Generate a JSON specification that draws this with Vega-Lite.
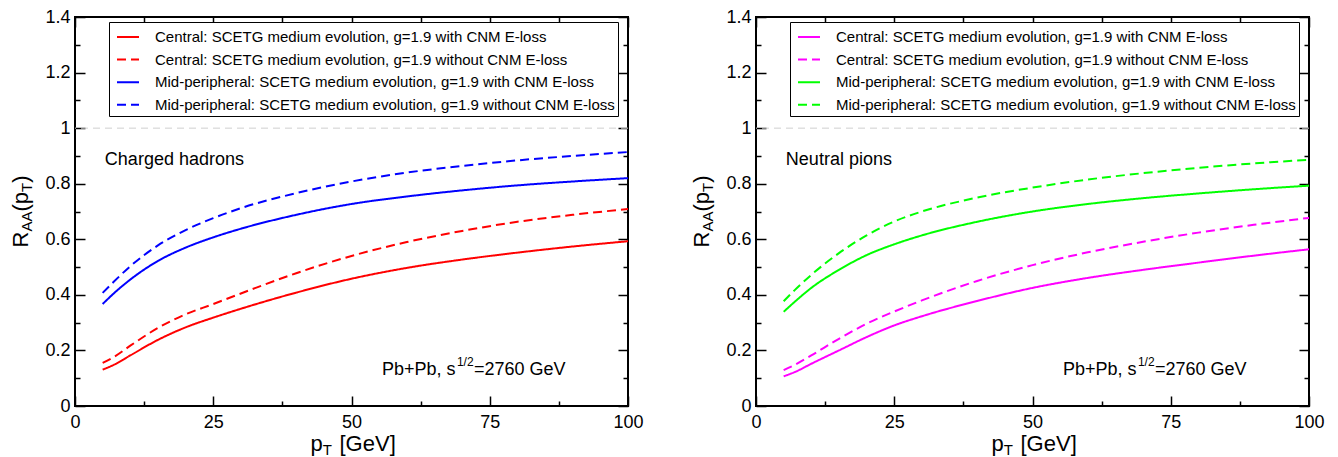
{
  "$schema": "https://vega.github.io/schema/vega-lite/v6.json",
  "background": "white",
  "padding": {"left": 8, "top": 7, "right": 0, "bottom": 0},
  "datasets": {
    "hadrons": [
      {"pT": 5, "cw": 0.131, "cwo": 0.155, "mw": 0.367, "mwo": 0.407},
      {"pT": 7, "cw": 0.148, "cwo": 0.176, "mw": 0.405, "mwo": 0.447},
      {"pT": 10, "cw": 0.182, "cwo": 0.217, "mw": 0.455, "mwo": 0.503},
      {"pT": 15, "cw": 0.238, "cwo": 0.281, "mw": 0.522, "mwo": 0.578},
      {"pT": 20, "cw": 0.283, "cwo": 0.330, "mw": 0.570, "mwo": 0.633},
      {"pT": 25, "cw": 0.318, "cwo": 0.367, "mw": 0.607, "mwo": 0.676},
      {"pT": 30, "cw": 0.350, "cwo": 0.405, "mw": 0.638, "mwo": 0.712},
      {"pT": 40, "cw": 0.408, "cwo": 0.478, "mw": 0.688, "mwo": 0.766},
      {"pT": 50, "cw": 0.458, "cwo": 0.540, "mw": 0.727, "mwo": 0.808},
      {"pT": 60, "cw": 0.497, "cwo": 0.590, "mw": 0.754, "mwo": 0.840},
      {"pT": 70, "cw": 0.527, "cwo": 0.630, "mw": 0.776, "mwo": 0.864},
      {"pT": 80, "cw": 0.552, "cwo": 0.663, "mw": 0.794, "mwo": 0.884},
      {"pT": 90, "cw": 0.574, "cwo": 0.688, "mw": 0.808, "mwo": 0.900},
      {"pT": 100, "cw": 0.593, "cwo": 0.709, "mw": 0.820, "mwo": 0.914}
    ],
    "pions": [
      {"pT": 5, "cw": 0.107, "cwo": 0.129, "mw": 0.339, "mwo": 0.377},
      {"pT": 7, "cw": 0.122, "cwo": 0.148, "mw": 0.375, "mwo": 0.417},
      {"pT": 10, "cw": 0.152, "cwo": 0.182, "mw": 0.425, "mwo": 0.472},
      {"pT": 15, "cw": 0.200, "cwo": 0.242, "mw": 0.490, "mwo": 0.550},
      {"pT": 20, "cw": 0.248, "cwo": 0.296, "mw": 0.543, "mwo": 0.614},
      {"pT": 25, "cw": 0.290, "cwo": 0.340, "mw": 0.582, "mwo": 0.664},
      {"pT": 30, "cw": 0.323, "cwo": 0.380, "mw": 0.614, "mwo": 0.700},
      {"pT": 40, "cw": 0.378, "cwo": 0.450, "mw": 0.663, "mwo": 0.750},
      {"pT": 50, "cw": 0.425, "cwo": 0.507, "mw": 0.700, "mwo": 0.786},
      {"pT": 60, "cw": 0.461, "cwo": 0.553, "mw": 0.727, "mwo": 0.815},
      {"pT": 70, "cw": 0.490, "cwo": 0.591, "mw": 0.748, "mwo": 0.838},
      {"pT": 80, "cw": 0.516, "cwo": 0.624, "mw": 0.765, "mwo": 0.857},
      {"pT": 90, "cw": 0.541, "cwo": 0.652, "mw": 0.780, "mwo": 0.873},
      {"pT": 100, "cw": 0.564, "cwo": 0.677, "mw": 0.793, "mwo": 0.886}
    ]
  },
  "spacing": 44,
  "hconcat": [
    {
      "width": 553,
      "height": 389,
      "layer": [
        {
          "data": {"values": [{}]},
          "mark": {"type": "rule", "color": "#cfcfcf", "strokeDash": [7, 5], "strokeWidth": 1},
          "encoding": {
            "y": {"datum": 1, "type": "quantitative", "scale": {"domain": [0, 1.4], "nice": false},
              "axis": {"orient": "left", "values": [0, 0.2, 0.4, 0.6, 0.8, 1, 1.2, 1.4], "format": "~g", "ticks": false, "tickSize": 0, "labelPadding": 5, "labelFlush": false, "labelOverlap": false,
                "title": "R", "titleX": -48, "titleY": 230, "titleAngle": -90, "titleAlign": "left", "titleBaseline": "alphabetic"}}
          }
        },
        {
          "data": {"name": "hadrons"},
          "transform": [{"fold": ["cw", "cwo", "mw", "mwo"], "as": ["series", "R"]}],
          "mark": {"type": "line", "strokeWidth": 2, "interpolate": "monotone"},
          "encoding": {
            "x": {"field": "pT", "type": "quantitative", "scale": {"domain": [0, 100], "nice": false},
              "axis": {"orient": "bottom", "values": [0, 25, 50, 75, 100], "ticks": false, "tickSize": 0, "labelPadding": 7, "labelFlush": false, "labelOverlap": false,
                "title": "p", "titleX": 235, "titleY": 44, "titleAlign": "left", "titleBaseline": "alphabetic", "titleAngle": 0}},
            "y": {"field": "R", "type": "quantitative", "scale": {"domain": [0, 1.4], "nice": false},
              "axis": {"orient": "left", "values": [0, 0.2, 0.4, 0.6, 0.8, 1, 1.2, 1.4], "tickSize": -10, "labels": false,
                "title": "AA", "titleFontSize": 15, "titleX": -43.5, "titleY": 214, "titleAngle": -90, "titleAlign": "left", "titleBaseline": "alphabetic"}},
            "color": {"field": "series", "type": "nominal",
              "scale": {"domain": ["cw", "cwo", "mw", "mwo"], "range": ["#ff0000", "#ff0000", "#0000ff", "#0000ff"]},
              "legend": {"title": null, "orient": "none", "legendX": 34, "legendY": 5, "symbolType": "stroke", "symbolSize": 484, "symbolStrokeWidth": 2, "symbolOffset": 4, "labelFont": "Liberation Sans", "labelFontSize": 15, "labelColor": "#000", "labelLimit": 0, "rowPadding": 2.6, "padding": 3, "strokeColor": "#000", "fillColor": "#fff", "labelOffset": 15,
                "labelExpr": "datum.value == 'cw' ? 'Central: SCETG medium evolution, g=1.9 with CNM E-loss' : datum.value == 'cwo' ? 'Central: SCETG medium evolution, g=1.9 without CNM E-loss' : datum.value == 'mw' ? 'Mid-peripheral: SCETG medium evolution, g=1.9 with CNM E-loss' : 'Mid-peripheral: SCETG medium evolution, g=1.9 without CNM E-loss'"}},
            "strokeDash": {"field": "series", "type": "nominal",
              "scale": {"domain": ["cw", "cwo", "mw", "mwo"], "range": [[1, 0], [9, 5], [1, 0], [9, 5]]},
              "legend": {"title": null, "orient": "none", "legendX": 34, "legendY": 5, "symbolType": "stroke", "symbolSize": 484, "symbolStrokeWidth": 2, "symbolOffset": 4, "labelFont": "Liberation Sans", "labelFontSize": 15, "labelColor": "#000", "labelLimit": 0, "rowPadding": 2.6, "padding": 3, "strokeColor": "#000", "fillColor": "#fff", "labelOffset": 15,
                "labelExpr": "datum.value == 'cw' ? 'Central: SCETG medium evolution, g=1.9 with CNM E-loss' : datum.value == 'cwo' ? 'Central: SCETG medium evolution, g=1.9 without CNM E-loss' : datum.value == 'mw' ? 'Mid-peripheral: SCETG medium evolution, g=1.9 with CNM E-loss' : 'Mid-peripheral: SCETG medium evolution, g=1.9 without CNM E-loss'"}}
          }
        },
        {
          "data": {"values": [{}]},
          "mark": {"type": "text", "text": "Charged hadrons", "align": "left", "baseline": "middle", "font": "Liberation Sans", "fontSize": 18, "color": "#000"},
          "encoding": {
            "x": {"datum": 5.4, "type": "quantitative", "scale": {"domain": [0, 100], "nice": false},
              "axis": {"orient": "bottom", "values": [0, 25, 50, 75, 100], "tickSize": -10, "labels": false,
                "title": "T", "titleFontSize": 15, "titleX": 247.2, "titleY": 48.5, "titleAlign": "left", "titleBaseline": "alphabetic", "titleAngle": 0}},
            "y": {"datum": 0.885, "type": "quantitative", "scale": {"domain": [0, 1.4], "nice": false},
              "axis": {"orient": "left", "values": [0.1, 0.3, 0.5, 0.7, 0.9, 1.1, 1.3], "tickSize": -5, "labels": false,
                "title": "(p", "titleX": -48, "titleY": 194, "titleAngle": -90, "titleAlign": "left", "titleBaseline": "alphabetic"}}
          }
        },
        {
          "data": {"values": [{}]},
          "mark": {"type": "text", "text": "Pb+Pb, s", "align": "left", "baseline": "middle", "font": "Liberation Sans", "fontSize": 18, "color": "#000"},
          "encoding": {
            "x": {"datum": 55.5, "type": "quantitative", "scale": {"domain": [0, 100], "nice": false},
              "axis": {"orient": "bottom", "values": [12.5, 37.5, 62.5, 87.5], "tickSize": -5, "labels": false,
                "title": "[GeV]", "titleX": 264, "titleY": 44, "titleAlign": "left", "titleBaseline": "alphabetic", "titleAngle": 0}},
            "y": {"datum": 0.13, "type": "quantitative", "scale": {"domain": [0, 1.4], "nice": false},
              "axis": {"orient": "right", "values": [0, 0.2, 0.4, 0.6, 0.8, 1, 1.2, 1.4], "tickSize": -10, "labels": false,
                "title": "T", "titleFontSize": 15, "titleX": -596.5, "titleY": 174.5, "titleAngle": -90, "titleAlign": "left", "titleBaseline": "alphabetic"}}
          }
        },
        {
          "data": {"values": [{}]},
          "mark": {"type": "text", "text": "1/2", "align": "left", "baseline": "middle", "font": "Liberation Sans", "fontSize": 12, "color": "#000", "dx": 75, "dy": -8},
          "encoding": {
            "x": {"datum": 55.5, "type": "quantitative", "scale": {"domain": [0, 100], "nice": false},
              "axis": {"orient": "top", "values": [0, 25, 50, 75, 100], "tickSize": -10, "labels": false, "title": null}},
            "y": {"datum": 0.13, "type": "quantitative", "scale": {"domain": [0, 1.4], "nice": false},
              "axis": {"orient": "right", "values": [0.1, 0.3, 0.5, 0.7, 0.9, 1.1, 1.3], "tickSize": -5, "labels": false,
                "title": ")", "titleX": -601, "titleY": 165.3, "titleAngle": -90, "titleAlign": "left", "titleBaseline": "alphabetic"}}
          }
        },
        {
          "data": {"values": [{}]},
          "mark": {"type": "text", "text": "=2760 GeV", "align": "left", "baseline": "middle", "font": "Liberation Sans", "fontSize": 18, "color": "#000", "dx": 92},
          "encoding": {
            "x": {"datum": 55.5, "type": "quantitative", "scale": {"domain": [0, 100], "nice": false},
              "axis": {"orient": "top", "values": [12.5, 37.5, 62.5, 87.5], "tickSize": -5, "labels": false, "title": null}},
            "y": {"datum": 0.13, "type": "quantitative", "scale": {"domain": [0, 1.4], "nice": false}, "axis": null}
          }
        }
      ],
      "resolve": {"axis": {"x": "independent", "y": "independent"}}
    },
    {
      "width": 553,
      "height": 389,
      "layer": [
        {
          "data": {"values": [{}]},
          "mark": {"type": "rule", "color": "#cfcfcf", "strokeDash": [7, 5], "strokeWidth": 1},
          "encoding": {
            "y": {"datum": 1, "type": "quantitative", "scale": {"domain": [0, 1.4], "nice": false},
              "axis": {"orient": "left", "values": [0, 0.2, 0.4, 0.6, 0.8, 1, 1.2, 1.4], "format": "~g", "ticks": false, "tickSize": 0, "labelPadding": 5, "labelFlush": false, "labelOverlap": false,
                "title": "R", "titleX": -48, "titleY": 230, "titleAngle": -90, "titleAlign": "left", "titleBaseline": "alphabetic"}}
          }
        },
        {
          "data": {"name": "pions"},
          "transform": [{"fold": ["cw", "cwo", "mw", "mwo"], "as": ["series", "R"]}],
          "mark": {"type": "line", "strokeWidth": 2, "interpolate": "monotone"},
          "encoding": {
            "x": {"field": "pT", "type": "quantitative", "scale": {"domain": [0, 100], "nice": false},
              "axis": {"orient": "bottom", "values": [0, 25, 50, 75, 100], "ticks": false, "tickSize": 0, "labelPadding": 7, "labelFlush": false, "labelOverlap": false,
                "title": "p", "titleX": 235, "titleY": 44, "titleAlign": "left", "titleBaseline": "alphabetic", "titleAngle": 0}},
            "y": {"field": "R", "type": "quantitative", "scale": {"domain": [0, 1.4], "nice": false},
              "axis": {"orient": "left", "values": [0, 0.2, 0.4, 0.6, 0.8, 1, 1.2, 1.4], "tickSize": -10, "labels": false,
                "title": "AA", "titleFontSize": 15, "titleX": -43.5, "titleY": 214, "titleAngle": -90, "titleAlign": "left", "titleBaseline": "alphabetic"}},
            "color": {"field": "series", "type": "nominal",
              "scale": {"domain": ["cw", "cwo", "mw", "mwo"], "range": ["#ff00ff", "#ff00ff", "#00ff00", "#00ff00"]},
              "legend": {"title": null, "orient": "none", "legendX": 34, "legendY": 5, "symbolType": "stroke", "symbolSize": 484, "symbolStrokeWidth": 2, "symbolOffset": 4, "labelFont": "Liberation Sans", "labelFontSize": 15, "labelColor": "#000", "labelLimit": 0, "rowPadding": 2.6, "padding": 3, "strokeColor": "#000", "fillColor": "#fff", "labelOffset": 15,
                "labelExpr": "datum.value == 'cw' ? 'Central: SCETG medium evolution, g=1.9 with CNM E-loss' : datum.value == 'cwo' ? 'Central: SCETG medium evolution, g=1.9 without CNM E-loss' : datum.value == 'mw' ? 'Mid-peripheral: SCETG medium evolution, g=1.9 with CNM E-loss' : 'Mid-peripheral: SCETG medium evolution, g=1.9 without CNM E-loss'"}},
            "strokeDash": {"field": "series", "type": "nominal",
              "scale": {"domain": ["cw", "cwo", "mw", "mwo"], "range": [[1, 0], [9, 5], [1, 0], [9, 5]]},
              "legend": {"title": null, "orient": "none", "legendX": 34, "legendY": 5, "symbolType": "stroke", "symbolSize": 484, "symbolStrokeWidth": 2, "symbolOffset": 4, "labelFont": "Liberation Sans", "labelFontSize": 15, "labelColor": "#000", "labelLimit": 0, "rowPadding": 2.6, "padding": 3, "strokeColor": "#000", "fillColor": "#fff", "labelOffset": 15,
                "labelExpr": "datum.value == 'cw' ? 'Central: SCETG medium evolution, g=1.9 with CNM E-loss' : datum.value == 'cwo' ? 'Central: SCETG medium evolution, g=1.9 without CNM E-loss' : datum.value == 'mw' ? 'Mid-peripheral: SCETG medium evolution, g=1.9 with CNM E-loss' : 'Mid-peripheral: SCETG medium evolution, g=1.9 without CNM E-loss'"}}
          }
        },
        {
          "data": {"values": [{}]},
          "mark": {"type": "text", "text": "Neutral pions", "align": "left", "baseline": "middle", "font": "Liberation Sans", "fontSize": 18, "color": "#000"},
          "encoding": {
            "x": {"datum": 5.4, "type": "quantitative", "scale": {"domain": [0, 100], "nice": false},
              "axis": {"orient": "bottom", "values": [0, 25, 50, 75, 100], "tickSize": -10, "labels": false,
                "title": "T", "titleFontSize": 15, "titleX": 247.2, "titleY": 48.5, "titleAlign": "left", "titleBaseline": "alphabetic", "titleAngle": 0}},
            "y": {"datum": 0.885, "type": "quantitative", "scale": {"domain": [0, 1.4], "nice": false},
              "axis": {"orient": "left", "values": [0.1, 0.3, 0.5, 0.7, 0.9, 1.1, 1.3], "tickSize": -5, "labels": false,
                "title": "(p", "titleX": -48, "titleY": 194, "titleAngle": -90, "titleAlign": "left", "titleBaseline": "alphabetic"}}
          }
        },
        {
          "data": {"values": [{}]},
          "mark": {"type": "text", "text": "Pb+Pb, s", "align": "left", "baseline": "middle", "font": "Liberation Sans", "fontSize": 18, "color": "#000"},
          "encoding": {
            "x": {"datum": 55.5, "type": "quantitative", "scale": {"domain": [0, 100], "nice": false},
              "axis": {"orient": "bottom", "values": [12.5, 37.5, 62.5, 87.5], "tickSize": -5, "labels": false,
                "title": "[GeV]", "titleX": 264, "titleY": 44, "titleAlign": "left", "titleBaseline": "alphabetic", "titleAngle": 0}},
            "y": {"datum": 0.13, "type": "quantitative", "scale": {"domain": [0, 1.4], "nice": false},
              "axis": {"orient": "right", "values": [0, 0.2, 0.4, 0.6, 0.8, 1, 1.2, 1.4], "tickSize": -10, "labels": false,
                "title": "T", "titleFontSize": 15, "titleX": -596.5, "titleY": 174.5, "titleAngle": -90, "titleAlign": "left", "titleBaseline": "alphabetic"}}
          }
        },
        {
          "data": {"values": [{}]},
          "mark": {"type": "text", "text": "1/2", "align": "left", "baseline": "middle", "font": "Liberation Sans", "fontSize": 12, "color": "#000", "dx": 75, "dy": -8},
          "encoding": {
            "x": {"datum": 55.5, "type": "quantitative", "scale": {"domain": [0, 100], "nice": false},
              "axis": {"orient": "top", "values": [0, 25, 50, 75, 100], "tickSize": -10, "labels": false, "title": null}},
            "y": {"datum": 0.13, "type": "quantitative", "scale": {"domain": [0, 1.4], "nice": false},
              "axis": {"orient": "right", "values": [0.1, 0.3, 0.5, 0.7, 0.9, 1.1, 1.3], "tickSize": -5, "labels": false,
                "title": ")", "titleX": -601, "titleY": 165.3, "titleAngle": -90, "titleAlign": "left", "titleBaseline": "alphabetic"}}
          }
        },
        {
          "data": {"values": [{}]},
          "mark": {"type": "text", "text": "=2760 GeV", "align": "left", "baseline": "middle", "font": "Liberation Sans", "fontSize": 18, "color": "#000", "dx": 92},
          "encoding": {
            "x": {"datum": 55.5, "type": "quantitative", "scale": {"domain": [0, 100], "nice": false},
              "axis": {"orient": "top", "values": [12.5, 37.5, 62.5, 87.5], "tickSize": -5, "labels": false, "title": null}},
            "y": {"datum": 0.13, "type": "quantitative", "scale": {"domain": [0, 1.4], "nice": false}, "axis": null}
          }
        }
      ],
      "resolve": {"axis": {"x": "independent", "y": "independent"}}
    }
  ],
  "resolve": {
    "scale": {"color": "independent", "strokeDash": "independent"},
    "legend": {"color": "independent", "strokeDash": "independent"}
  },
  "config": {
    "view": {"stroke": "#000", "strokeWidth": 2},
    "axis": {"domain": false, "grid": false, "tickColor": "#000", "tickWidth": 1.5, "labelFont": "Liberation Sans", "labelFontSize": 18, "labelColor": "#000", "titleFont": "Liberation Sans", "titleFontSize": 22, "titleFontWeight": "normal", "titleColor": "#000"},
    "legend": {"strokeWidth": 1}
  }
}
